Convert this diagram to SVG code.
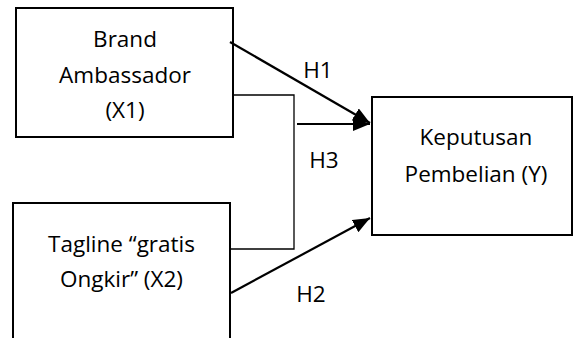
<svg xmlns="http://www.w3.org/2000/svg" width="574" height="338" viewBox="0 0 574 338">
<style>
.box{fill:#fff;stroke:#000;stroke-width:2}
.t{font-family:"Open Sans","Liberation Sans",sans-serif;font-size:22.5px;fill:#000;text-anchor:middle}
.arr{stroke:#000;stroke-width:2.2;fill:none;marker-end:url(#ah)}
.thin{stroke:#000;stroke-width:1.3;fill:none}
</style>
<defs>
<marker id="ah" markerUnits="userSpaceOnUse" markerWidth="18" markerHeight="14" refX="17" refY="7" orient="auto">
<path d="M0,0 L17,7 L0,14 Z" fill="#000"/>
</marker>
</defs>
<rect width="574" height="338" fill="#fff"/>
<g id="x1">
<rect class="box" x="16" y="8" width="217" height="129"/>
<text class="t" x="125" y="47">Brand</text>
<text class="t" x="125" y="83">Ambassador</text>
<text class="t" x="125" y="118">(X1)</text>
</g>
<g id="x2">
<path class="box" d="M13,340 V203 H230 V340"/>
<text class="t" x="121.5" y="252">Tagline “gratis</text>
<text class="t" x="121.5" y="287">Ongkir” (X2)</text>
</g>
<g id="y">
<rect class="box" x="372" y="97" width="200" height="138"/>
<text class="t" x="476" y="145">Keputusan</text>
<text class="t" x="476" y="182">Pembelian (Y)</text>
</g>
<g id="connectors">
<path class="thin" d="M233,95 H294 V249 H230"/>
<line class="arr" x1="230" y1="42" x2="370" y2="123"/>
<line class="arr" x1="297" y1="124" x2="370" y2="124"/>
<line class="arr" x1="231" y1="293" x2="370" y2="218"/>
<text class="t" x="318" y="78">H1</text>
<text class="t" x="324" y="168">H3</text>
<text class="t" x="311" y="302">H2</text>
</g>
</svg>
